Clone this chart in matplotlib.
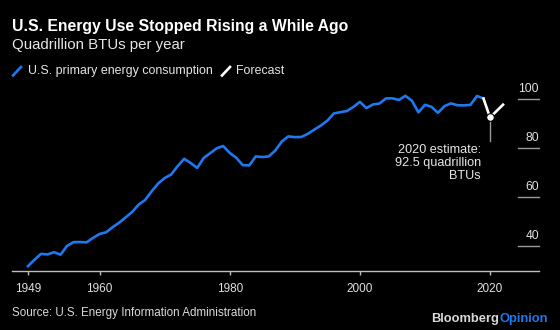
import matplotlib.pyplot as plt
from matplotlib.lines import Line2D

plt.rcParams['font.family'] = ['Liberation Sans', 'DejaVu Sans']

# U.S. primary energy consumption, quadrillion BTUs
years = list(range(1949, 2020))
consumption = [31.98, 34.6, 36.97, 36.75, 37.66, 36.64, 40.21, 41.75, 41.79, 41.65,
               43.47, 45.09, 45.74, 47.83, 49.65, 51.82, 54.02, 57.02, 58.91, 62.42,
               65.62, 67.84, 69.29, 72.70, 75.68, 73.96, 71.96, 75.99, 77.96, 79.96,
               80.86, 78.07, 76.11, 73.10, 72.97, 76.63, 76.39, 76.64, 79.05, 82.70,
               84.79, 84.49, 84.55, 85.84, 87.56, 89.22, 91.16, 94.13, 94.63, 95.12,
               96.78, 98.86, 96.30, 97.79, 98.15, 100.25, 100.28, 99.62, 101.30, 99.29,
               94.58, 97.64, 96.84, 94.38, 97.11, 98.23, 97.47, 97.41, 97.63, 101.25,
               100.2]
fc_years = [2019, 2020, 2021, 2022]
fc_values = [100.2, 92.5, 95.1, 97.7]

xticks = [1949, 1960, 1980, 2000, 2020]
yticks = [40, 60, 80, 100]

blue = '#1e78f0'
bg = 'black'

fig = plt.figure(figsize=(5.6, 3.3), dpi=100, facecolor=bg)
ax = fig.add_axes([12 / 560, 1 - 271 / 330, 527 / 560, (271 - 89.2) / 330])
ax.set_facecolor(bg)

ax.plot(years, consumption, color=blue, lw=1.9, solid_joinstyle='round', clip_on=False)
ax.plot(fc_years, fc_values, color='white', lw=1.9, solid_joinstyle='round', clip_on=False)

# 2020 estimate marker + callout
ax.plot([2020, 2020], [92.5, 83.0], color='#9a9a9a', lw=1, zorder=1)
ax.plot(2020, 92.5, 'o', ms=5.5, mfc='white', mec='black', mew=0.8, zorder=5)
ax.text(2018.6, 81.6, '2020 estimate:\n92.5 quadrillion\nBTUs', ha='right', va='top',
        color='#e6e6e6', fontsize=9.1, linespacing=1.1)

ax.set_xlim(1946.54, 2027.53)
ax.set_ylim(30, 104)

for s in ['top', 'right', 'left']:
    ax.spines[s].set_visible(False)
ax.spines['bottom'].set_color('#bdbdbd')
ax.spines['bottom'].set_linewidth(1)

ax.set_xticks(xticks)
ax.tick_params(axis='x', direction='out', length=3, width=1, color='#bdbdbd',
               labelcolor='#e0e0e0', labelsize=8.5, pad=6)
ax.set_yticks([])

# y labels sit on short stubs at the right edge
for v in yticks:
    ax.plot([0.96, 1.0], [v, v], color='#9a9a9a', lw=1, transform=ax.get_yaxis_transform(),
            clip_on=False)
    ax.annotate(str(v), (1.0, v), xycoords=ax.get_yaxis_transform(), xytext=(0, 3),
                textcoords='offset points', ha='right', va='bottom', color='#e0e0e0',
                fontsize=8.7, annotation_clip=False)

# header
fig.text(12 / 560, 1 - 27 / 330, 'U.S. Energy Use Stopped Rising a While Ago', color='white',
         fontsize=11.3, fontweight='bold', va='center')
fig.text(12 / 560, 1 - 44.5 / 330, 'Quadrillion BTUs per year', color='#e6e6e6',
         fontsize=10.8, va='center')

# legend
def slash(x0, color):
    fig.add_artist(Line2D([x0 / 560, (x0 + 8) / 560], [1 - 75.5 / 330, 1 - 67 / 330],
                          color=color, lw=1.9, transform=fig.transFigure))

slash(13, blue)
fig.text(28 / 560, 1 - 71 / 330, 'U.S. primary energy consumption', color='#e6e6e6',
         fontsize=8.9, va='center')
slash(222, 'white')
fig.text(236 / 560, 1 - 71 / 330, 'Forecast', color='#e6e6e6', fontsize=8.9, va='center')

# footer
fig.text(12 / 560, 1 - 313 / 330, 'Source: U.S. Energy Information Administration',
         color='#d9d9d9', fontsize=8.4, va='center')
t2 = fig.text(548 / 560, 1 - 322 / 330, 'Opinion', color=blue, fontsize=9.3,
              fontweight='bold', ha='right', va='baseline')
fig.canvas.draw()
bb = t2.get_window_extent(fig.canvas.get_renderer())
fig.text(bb.x0 / fig.bbox.width, 1 - 322 / 330, 'Bloomberg', color='#d9d9d9', fontsize=9.3,
         fontweight='bold', ha='right', va='baseline')

plt.savefig('out.png', dpi=100, facecolor=bg)
